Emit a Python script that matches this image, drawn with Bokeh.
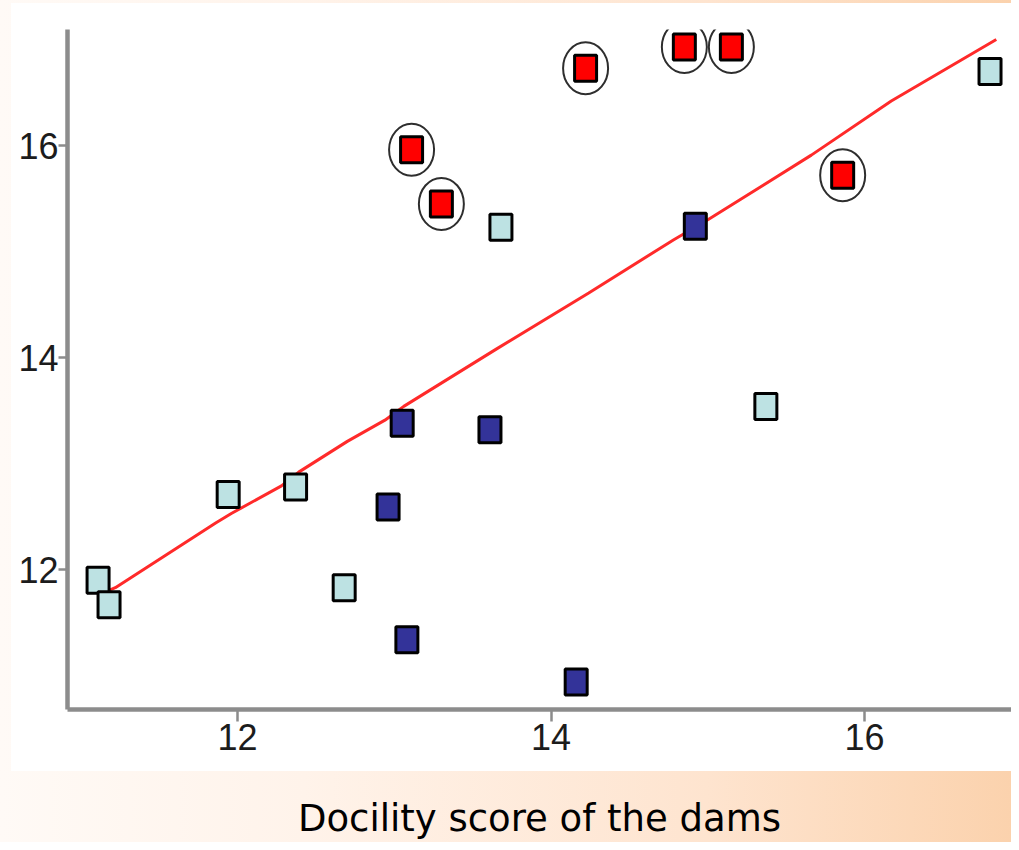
from bokeh.plotting import figure
from bokeh.models import Range1d, FixedTicker
from bokeh.embed import file_html
from bokeh.resources import INLINE

# ---- data ----
light_x = [11.11, 11.18, 11.94, 12.37, 12.68, 13.68, 15.37, 16.80]
light_y = [11.90, 11.67, 12.71, 12.78, 11.83, 15.23, 13.54, 16.70]

navy_x = [13.05, 13.61, 12.96, 13.08, 14.16, 14.92]
navy_y = [13.38, 13.32, 12.59, 11.34, 10.94, 15.24]

red_x = [13.11, 13.30, 14.22, 14.85, 15.15, 15.86]
red_y = [15.96, 15.45, 16.73, 16.93, 16.93, 15.72]

trend_x = [11.11, 11.22, 11.86, 11.96, 12.28, 12.39, 12.70, 12.94, 13.06,
           13.65, 14.24, 14.78, 15.00, 15.66, 16.17, 16.84]
trend_y = [11.76, 11.83, 12.44, 12.53, 12.79, 12.92, 13.21, 13.41, 13.54,
           14.08, 14.61, 15.11, 15.30, 15.91, 16.42, 17.00]

tick_values = [12, 14, 16]
x_label = "Docility score of the dams"

# ---- figure ----
bg = ("linear-gradient(#ffffff,#ffffff) 11px 3px / 1000px 768px no-repeat, "
      "linear-gradient(to right, #fffaf6 0%, #fff3ea 30%, #fee4cf 70%, #fbd2ad 100%)")

p = figure(width=1011, height=842, output_backend="svg", toolbar_location=None,
           x_range=Range1d(10.915, 16.937), y_range=Range1d(10.681, 17.095),
           min_border_left=67, min_border_right=0, min_border_top=29,
           min_border_bottom=130, styles={"background": bg})
p.border_fill_color = None
p.background_fill_color = None
p.outline_line_color = None
p.grid.visible = False

for ax in (p.xaxis, p.yaxis):
    ax.ticker = FixedTicker(ticks=tick_values)
    ax.axis_line_color = "#8c8c8c"
    ax.axis_line_width = 4.5
    ax.major_tick_line_color = "#8c8c8c"
    ax.major_tick_line_width = 2.5
    ax.major_tick_in = 0
    ax.minor_tick_line_color = None
    ax.major_label_text_font = "Liberation Sans"
    ax.major_label_text_font_size = "36px"
    ax.major_label_text_color = "#1c1c1c"

p.xaxis.major_tick_out = 12
p.xaxis.major_label_standoff = 2
p.yaxis.major_tick_out = 9
p.yaxis.major_label_standoff = 0

p.xaxis.axis_label = x_label
p.xaxis.axis_label_text_font = "DejaVu Sans"
p.xaxis.axis_label_text_font_style = "normal"
p.xaxis.axis_label_text_font_size = "37px"
p.xaxis.axis_label_text_color = "#000000"
p.xaxis.axis_label_standoff = 44

# ---- marks ----
p.line(trend_x, trend_y, line_color="#ff2a2a", line_width=3)

p.rect(light_x, light_y, width=22, height=26, width_units="screen", height_units="screen",
       fill_color="#bde2e3", line_color="#000000", line_width=3)
p.rect(navy_x, navy_y, width=22, height=26, width_units="screen", height_units="screen",
       fill_color="#333399", line_color="#000000", line_width=3)
p.rect(red_x, red_y, width=22, height=26, width_units="screen", height_units="screen",
       fill_color="#ff0000", line_color="#000000", line_width=3)
p.ellipse(red_x, red_y, width=45, height=52, width_units="screen", height_units="screen",
          fill_color=None, line_color="#2e2e2e", line_width=2)

open("out.html", "w").write(file_html(p, INLINE))
